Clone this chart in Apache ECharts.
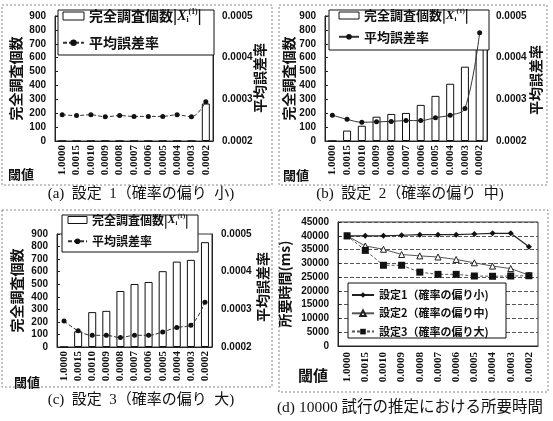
<!DOCTYPE html>
<html><head><meta charset="utf-8">
<script src="https://cdn.jsdelivr.net/npm/echarts@6/dist/echarts.min.js"></script>
<style>html,body{margin:0;padding:0;background:#fff}#c{width:553px;height:421px}</style>
</head><body><div id="c"></div>
<script>
const categories = ['1.0000','0.0015','0.0010','0.0009','0.0008','0.0007','0.0006','0.0005','0.0004','0.0003','0.0002'];
const countA = [0,0,0,0,0,0,0,0,0,0,270];
const errA = [0.000263,0.000261,0.000263,0.000258,0.000261,0.000259,0.000259,0.000259,0.000263,0.000258,0.000294];
const countB = [0,75,110,175,195,202,260,325,412,535,868];
const errB = [0.000262,0.000252,0.000245,0.000246,0.000247,0.000249,0.000249,0.000256,0.000262,0.000278,0.000460];
const countC = [0,125,278,288,446,502,518,604,680,694,835];
const errC = [0.000269,0.000243,0.000231,0.000231,0.000225,0.000231,0.000231,0.000240,0.000252,0.000258,0.000319];
const timeS1 = [40000,40000,40000,40200,40400,40400,40400,40650,40900,40900,36000];
const timeS2 = [40000,36300,35100,33200,32700,32300,31400,30200,29000,28100,25700];
const timeS3 = [40000,34700,29300,29300,26800,26000,26000,25400,25300,25400,25500];
const countTicks = {min:0, max:900, interval:100};
const errTicks = {min:0.0002, max:0.0005, interval:0.0001};
const timeTicks = {min:0, max:45000, interval:5000};

const SANS = '"Liberation Sans", "Noto Sans CJK JP", sans-serif';
const CJK = '"Noto Sans CJK JP", sans-serif';
const SERIF = '"Liberation Serif", "Noto Sans CJK JP", serif';
const INK = '#111';

const grids = [
  {left:55, top:16, width:158, height:125},
  {left:325, top:16, width:162, height:125},
  {left:57, top:234, width:155, height:113},
  {left:338, top:222, width:200, height:124}
].map(g => Object.assign({show:true, borderColor:'#333', borderWidth:1, containLabel:false}, g));

function xAx(i, margin) {
  return {type:'category', gridIndex:i, data:categories, boundaryGap:true,
    axisLine:{lineStyle:{color:'#222'}},
    axisTick:{inside:true, length:3, lineStyle:{color:'#222'}},
    axisLabel:{interval:0, rotate:90, margin:margin, fontFamily:SERIF, fontWeight:'bold', fontSize:11, color:INK}};
}
function leftAx(i, ticks, name, gap) {
  return Object.assign({type:'value', gridIndex:i, position:'left', name:name, nameLocation:'middle', nameRotate:90, nameGap:gap,
    nameTextStyle:{fontFamily:CJK, fontWeight:'bold', fontSize:14, color:INK},
    axisLine:{show:true, lineStyle:{color:'#222'}},
    axisTick:{show:true, inside:true, length:3, lineStyle:{color:'#222'}},
    splitLine:{show:false},
    axisLabel:{margin:9, fontFamily:SANS, fontWeight:'bold', fontSize:10, color:INK, formatter:v=>String(v)}}, ticks);
}
function rightAx(i) {
  return Object.assign({type:'value', gridIndex:i, position:'right',
    axisLine:{show:true, lineStyle:{color:'#222'}},
    axisTick:{show:false}, splitLine:{show:false},
    axisLabel:{margin:9, fontFamily:SANS, fontWeight:'bold', fontSize:10, color:INK, formatter:v=>v.toFixed(4)}}, errTicks);
}

const xAxis = [xAx(0,4), xAx(1,4), xAx(2,4), xAx(3,6)];
const yAxis = [
  leftAx(0, countTicks, '完全調査個数', 32), rightAx(0),
  leftAx(1, countTicks, '完全調査個数', 26), rightAx(1),
  leftAx(2, countTicks, '完全調査個数', 33), rightAx(2),
  Object.assign(leftAx(3, timeTicks, '所要時間(ms)', 46), {splitLine:{show:true, lineStyle:{color:'#555', type:[4,2], width:1}}})
];

function barS(name, x, y, data) {
  return {name:name, type:'bar', xAxisIndex:x, yAxisIndex:y, data:data, barWidth:8,
    itemStyle:{color:'#fff', borderColor:'#111', borderWidth:1}};
}
function errS(name, x, y, data, dashed) {
  return {name:name, type:'line', xAxisIndex:x, yAxisIndex:y, data:data, smooth:0.35,
    symbol:'circle', symbolSize:5, itemStyle:{color:'#111'},
    lineStyle:{color:'#333', width:1, type: dashed ? [4,2] : 'solid'}};
}
const series = [
  barS('cntA',0,0,countA), errS('errA',0,1,errA,true),
  barS('cntB',1,2,countB), errS('errB',1,3,errB,false),
  barS('cntC',2,4,countC), errS('errC',2,5,errC,true),
  {name:'s1', type:'line', xAxisIndex:3, yAxisIndex:6, data:timeS1, symbol:'diamond', symbolSize:6,
    itemStyle:{color:'#111'}, lineStyle:{color:'#222', width:1.2}},
  {name:'s2', type:'line', xAxisIndex:3, yAxisIndex:6, data:timeS2, symbol:'triangle', symbolSize:6,
    itemStyle:{color:'#fff', borderColor:'#222', borderWidth:1}, lineStyle:{color:'#555', width:1}},
  {name:'s3', type:'line', xAxisIndex:3, yAxisIndex:6, data:timeS3, symbol:'rect', symbolSize:7,
    itemStyle:{color:'#111'}, lineStyle:{color:'#555', width:1, type:[3,2]}}
];

const names = {
  cntA:'完全調査個数|{x|X}{s|i}{p|(1)}|', errA:'平均誤差率',
  cntB:'完全調査個数|{x|X}{s|i}{p|(1)}|', errB:'平均誤差率',
  cntC:'完全調査個数|{x|X}{s|i}{p|(1)}|', errC:'平均誤差率',
  s1:'設定1（確率の偏り小)', s2:'設定2（確率の偏り中)', s3:'設定3（確率の偏り大)'
};
function richFor(fs, lh) {
  return {x:{fontFamily:SERIF, fontStyle:'italic', fontWeight:'bold', fontSize:fs, lineHeight:lh},
          s:{fontFamily:SERIF, fontSize:fs*0.55, lineHeight:lh, verticalAlign:'bottom'},
          p:{fontFamily:SERIF, fontSize:fs*0.55, lineHeight:lh, verticalAlign:'top'}};
}
const hollow = {color:'#fff', borderColor:'#111', borderWidth:1};
function leg(data, left, top, fs, lh, gap, iw, ih) {
  return {data:data.map(n => n.startsWith('cnt') ? {name:n, icon:'rect', itemStyle:hollow} : n),
    left:left, top:top, orient:'vertical', padding:0, itemGap:gap, itemWidth:iw, itemHeight:ih,
    selectedMode:false, formatter:n=>names[n],
    textStyle:{fontFamily:CJK, fontWeight:'bold', fontSize:fs, lineHeight:lh, color:INK, rich:richFor(fs, lh)}};
}
const legend = [
  leg(['cntA','errA'], 62, 8, 14, 16, 10.7, 21, 8),
  leg(['cntB','errB'], 338, 8, 13, 15, 6.3, 20, 7),
  leg(['cntC','errC'], 67, 213, 12, 14, 7.3, 19, 7),
  leg(['s1','s2','s3'], 351, 288, 11, 14, 4.3, 22, 7)
];

function box(x,y,w,h){ return {type:'rect', z:3, shape:{x:x,y:y,width:w,height:h}, style:{fill:'#fff', stroke:'#111', lineWidth:1}}; }
function frame(x,y,w,h){ return {type:'rect', z:0, shape:{x:x,y:y,width:w,height:h}, style:{fill:null, stroke:'#888', lineWidth:1, lineDash:[2,2]}}; }
function txt(x,y,t,fs,font,weight,rot){ return {type:'text', z:5, x:x, y:y, rotation:rot||0, style:{text:t, x:0, y:0, fill:INK, font:(weight||'normal')+' '+fs+'px '+font, textAlign:'center', textVerticalAlign:'middle'}}; }

const R = Math.PI/2;
const graphic = [
  frame(2,5,270,180), frame(279,5,268,180), frame(2,210,270,177), frame(279,210,269,182),
  box(58,10,156,45), box(329,10,160,40), box(62,215,136,37), box(348,283,158,55),
  txt(260,78,'平均誤差率',14,CJK,'bold',R), txt(536,80,'平均誤差率',14,CJK,'bold',R), txt(263,287,'平均誤差率',14,CJK,'bold',R),
  txt(21,174,'閾値',13,CJK,'bold'), txt(296,175,'閾値',13,CJK,'bold'),
  txt(27,382,'閾値',13,CJK,'bold'), txt(313,375,'閾値',15,CJK,'bold'),
  txt(141,194,'(a)  設定  1（確率の偏り  小)',15,SERIF), txt(410,194,'(b)  設定  2（確率の偏り  中)',15,SERIF),
  txt(141,400,'(c)  設定  3（確率の偏り  大)',15,SERIF), txt(410,408,'(d) 10000 試行の推定における所要時間',15.5,SERIF)
];

const chart = echarts.init(document.getElementById('c'), null, {renderer:'canvas'});
chart.setOption({animation:false, backgroundColor:'#fff', grid:grids, xAxis:xAxis, yAxis:yAxis, series:series, legend:legend, graphic:graphic});
</script></body></html>
